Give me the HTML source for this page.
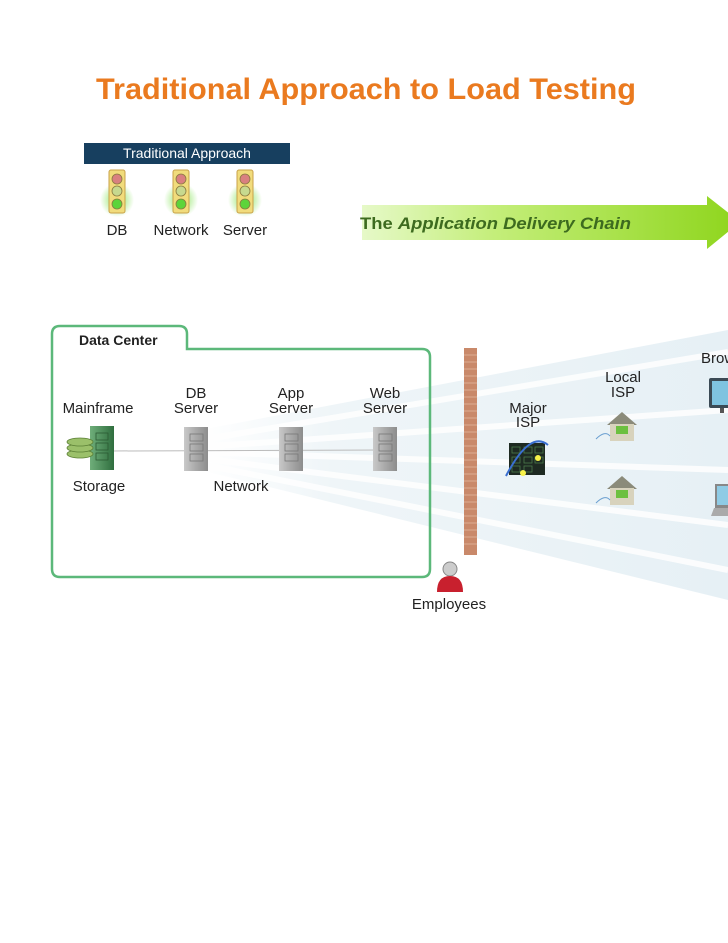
<!DOCTYPE html>
<html><head><meta charset="utf-8"><style>
html,body{margin:0;padding:0;background:#fff;}
svg{display:block;font-family:"Liberation Sans",sans-serif;}
</style></head><body>
<svg width="728" height="943" viewBox="0 0 728 943" xmlns="http://www.w3.org/2000/svg">
<defs>
<linearGradient id="arr" x1="0" x2="1" y1="0" y2="0">
<stop offset="0" stop-color="#e6f9c8"/><stop offset="0.35" stop-color="#c4ee7a"/><stop offset="1" stop-color="#8ed51c"/></linearGradient>
<linearGradient id="fan" x1="0" x2="1" y1="0" y2="0">
<stop offset="0" stop-color="#e8f1f5" stop-opacity="0"/><stop offset="0.25" stop-color="#e8f1f5" stop-opacity="0.7"/><stop offset="1" stop-color="#e6f0f5"/></linearGradient>
<radialGradient id="glow"><stop offset="0" stop-color="#7be04a" stop-opacity="0.9"/><stop offset="1" stop-color="#7be04a" stop-opacity="0"/></radialGradient>
<linearGradient id="srv" x1="0" x2="1"><stop offset="0" stop-color="#c9c9c9"/><stop offset="0.5" stop-color="#a9a9a9"/><stop offset="1" stop-color="#8d8d8d"/></linearGradient>
<linearGradient id="gsrv" x1="0" x2="1"><stop offset="0" stop-color="#6fae7a"/><stop offset="1" stop-color="#2f6e3e"/></linearGradient>
</defs>

<text x="96" y="99" font-size="30" font-weight="bold" fill="#ea7a1f" textLength="540" lengthAdjust="spacingAndGlyphs">Traditional Approach to Load Testing</text>

<rect x="84" y="143" width="206" height="21" fill="#173f5f"/>
<text x="187" y="158" font-size="14" fill="#fff" text-anchor="middle">Traditional Approach</text>
<g>
<circle cx="117" cy="200" r="17" fill="url(#glow)"/>
<circle cx="181" cy="200" r="17" fill="url(#glow)"/>
<circle cx="245" cy="200" r="17" fill="url(#glow)"/>
</g>
<g stroke="#c9a24a" stroke-width="1">
<rect x="109" y="170" width="16" height="43" rx="2" fill="#f1dc7c"/>
<rect x="173" y="170" width="16" height="43" rx="2" fill="#f1dc7c"/>
<rect x="237" y="170" width="16" height="43" rx="2" fill="#f1dc7c"/>
</g>
<g stroke="#8a7a40" stroke-width="0.8">
<circle cx="117" cy="179" r="5" fill="#d98080"/><circle cx="117" cy="191" r="5" fill="#c7d98f"/><circle cx="117" cy="204" r="5" fill="#5cd43a"/>
<circle cx="181" cy="179" r="5" fill="#d98080"/><circle cx="181" cy="191" r="5" fill="#c7d98f"/><circle cx="181" cy="204" r="5" fill="#5cd43a"/>
<circle cx="245" cy="179" r="5" fill="#d98080"/><circle cx="245" cy="191" r="5" fill="#c7d98f"/><circle cx="245" cy="204" r="5" fill="#5cd43a"/>
</g>
<g font-size="15" fill="#222" text-anchor="middle">
<text x="117" y="235">DB</text><text x="181" y="235">Network</text><text x="245" y="235">Server</text>
</g>

<polygon points="362,205 707,205 707,196 740,222 707,249 707,240 362,240" fill="url(#arr)"/>
<text x="360" y="229" font-size="17" font-weight="bold" fill="#3d6b1f" textLength="271" lengthAdjust="spacingAndGlyphs">The <tspan font-style="italic">Application Delivery Chain</tspan></text>

<!-- fan -->
<polygon points="200,430 200,470 728,600 728,330" fill="url(#fan)"/>
<g stroke="#fff" stroke-width="6" opacity="0.85">
<line x1="200" y1="440" x2="728" y2="352"/>
<line x1="200" y1="447" x2="728" y2="410"/>
<line x1="200" y1="452" x2="728" y2="470"/>
<line x1="200" y1="458" x2="728" y2="525"/>
<line x1="200" y1="464" x2="728" y2="570"/>
</g>

<!-- data center -->
<path d="M52,569 V334 Q52,326 60,326 H179 Q187,326 187,334 V349 H422 Q430,349 430,357 V569 Q430,577 422,577 H60 Q52,577 52,569 Z" fill="none" stroke="#5cb87a" stroke-width="2.5"/>
<text x="79" y="345" font-size="14" font-weight="bold" fill="#222">Data Center</text>

<line x1="110" y1="451" x2="385" y2="450" stroke="#bbb" stroke-width="1"/>
<g font-size="15" fill="#222" text-anchor="middle">
<text x="98" y="413">Mainframe</text>
<text x="196" y="398">DB</text><text x="196" y="413">Server</text>
<text x="291" y="398">App</text><text x="291" y="413">Server</text>
<text x="385" y="398">Web</text><text x="385" y="413">Server</text>
<text x="99" y="491">Storage</text>
<text x="241" y="491">Network</text>
</g>
<!-- mainframe -->
<rect x="90" y="426" width="24" height="44" fill="url(#gsrv)"/>
<g stroke="#2b5a33" fill="none" stroke-width="0.8"><rect x="96" y="433" width="12" height="7"/><rect x="96" y="443" width="12" height="7"/><rect x="96" y="453" width="12" height="7"/></g>
<g fill="#9bc06a" stroke="#5b7f35" stroke-width="0.8">
<ellipse cx="80" cy="454" rx="13" ry="4"/><ellipse cx="80" cy="448" rx="13" ry="4"/><ellipse cx="80" cy="442" rx="13" ry="4"/></g>
<!-- servers -->
<g>
<rect x="184" y="427" width="24" height="44" fill="url(#srv)"/>
<rect x="279" y="427" width="24" height="44" fill="url(#srv)"/>
<rect x="373" y="427" width="24" height="44" fill="url(#srv)"/>
</g>
<g stroke="#777" fill="none" stroke-width="0.8">
<rect x="190" y="434" width="13" height="7"/><rect x="190" y="444" width="13" height="7"/><rect x="190" y="454" width="13" height="7"/>
<rect x="285" y="434" width="13" height="7"/><rect x="285" y="444" width="13" height="7"/><rect x="285" y="454" width="13" height="7"/>
<rect x="379" y="434" width="13" height="7"/><rect x="379" y="444" width="13" height="7"/><rect x="379" y="454" width="13" height="7"/>
</g>

<!-- wall -->
<rect x="464" y="348" width="13" height="207" fill="#c9896a"/>
<g stroke="#e3b9a0" stroke-width="0.8">
<path d="M464,355H477M464,362H477M464,369H477M464,376H477M464,383H477M464,390H477M464,397H477M464,404H477M464,411H477M464,418H477M464,425H477M464,432H477M464,439H477M464,446H477M464,453H477M464,460H477M464,467H477M464,474H477M464,481H477M464,488H477M464,495H477M464,502H477M464,509H477M464,516H477M464,523H477M464,530H477M464,537H477M464,544H477"/>
</g>

<!-- employee -->
<circle cx="450" cy="569" r="7" fill="#ccc" stroke="#888"/>
<path d="M437,592 Q437,576 450,576 Q463,576 463,592 Z" fill="#c8202e"/>
<text x="449" y="609" font-size="15" fill="#222" text-anchor="middle">Employees</text>

<!-- major ISP -->
<text x="528" y="413" font-size="15" fill="#222" text-anchor="middle">Major</text>
<text x="528" y="427" font-size="15" fill="#222" text-anchor="middle">ISP</text>
<rect x="509" y="443" width="36" height="32" fill="#1e2a22"/>
<g stroke="#4c7a4c" fill="none" stroke-width="0.8"><rect x="512" y="447" width="8" height="6"/><rect x="524" y="447" width="8" height="6"/><rect x="535" y="447" width="8" height="6"/><rect x="512" y="457" width="8" height="6"/><rect x="524" y="457" width="8" height="6"/><rect x="535" y="457" width="8" height="6"/><rect x="512" y="466" width="8" height="6"/><rect x="524" y="466" width="8" height="6"/></g>
<path d="M506,476 Q530,430 548,445" stroke="#3a6fd0" stroke-width="2" fill="none"/>
<circle cx="538" cy="458" r="3" fill="#f7f24a"/><circle cx="523" cy="473" r="3" fill="#f7f24a"/>

<!-- local ISP -->
<text x="623" y="382" font-size="15" fill="#222" text-anchor="middle">Local</text>
<text x="623" y="397" font-size="15" fill="#222" text-anchor="middle">ISP</text>
<g>
<polygon points="607,425 622,412 637,425" fill="#8b8b7a"/><rect x="610" y="424" width="24" height="17" fill="#d8d3bd"/><rect x="616" y="426" width="12" height="8" fill="#6cc040"/>
<path d="M596,439 Q605,430 610,436" stroke="#6a9fd0" fill="none"/>
<polygon points="607,489 622,476 637,489" fill="#8b8b7a"/><rect x="610" y="488" width="24" height="17" fill="#d8d3bd"/><rect x="616" y="490" width="12" height="8" fill="#6cc040"/>
<path d="M596,503 Q605,494 610,500" stroke="#6a9fd0" fill="none"/>
</g>

<!-- browsers -->
<text x="701" y="363" font-size="15" fill="#222">Brow</text>
<rect x="709" y="378" width="22" height="30" rx="2" fill="#3b4a55"/><rect x="712" y="381" width="18" height="24" fill="#7fc3e0"/>
<rect x="720" y="408" width="4" height="5" fill="#555"/>
<rect x="715" y="484" width="16" height="24" fill="#888"/><rect x="717" y="486" width="12" height="19" fill="#8fcbe5"/>
<polygon points="711,516 728,516 728,508 714,508" fill="#aaa"/>
</svg>
</body></html>
